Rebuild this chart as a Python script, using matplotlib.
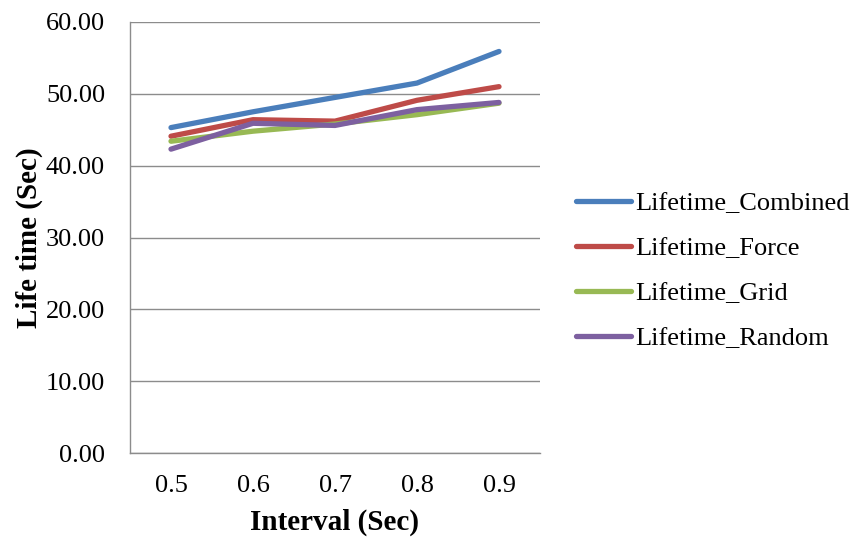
import matplotlib
matplotlib.use("Agg")
import matplotlib.pyplot as plt
from matplotlib.ticker import FormatStrFormatter

intervals = ["0.5", "0.6", "0.7", "0.8", "0.9"]
lifetime_combined = [45.3, 47.5, 49.5, 51.5, 55.9]
lifetime_force = [44.1, 46.4, 46.2, 49.1, 51.0]
lifetime_grid = [43.4, 44.8, 45.8, 47.1, 48.7]
lifetime_random = [42.3, 45.9, 45.6, 47.8, 48.8]

series = [
    ("Lifetime_Combined", lifetime_combined, "#4A7EBB"),
    ("Lifetime_Force", lifetime_force, "#BE4B48"),
    ("Lifetime_Grid", lifetime_grid, "#98B954"),
    ("Lifetime_Random", lifetime_random, "#7D60A0"),
]

plt.rcParams["font.family"] = ["Liberation Serif", "DejaVu Serif"]

fig = plt.figure(figsize=(8.56, 5.37), dpi=100)
ax = fig.add_axes([130 / 856, 1 - 453 / 537, 410 / 856, 431 / 537])

x = list(range(len(intervals)))
for name, vals, color in series:
    ax.plot(x, vals, color=color, lw=3.8, solid_capstyle="round",
            solid_joinstyle="round", label=name)

ax.set_xlim(-0.5, len(intervals) - 0.5)
ax.set_ylim(0, 60)
ax.set_yticks(range(0, 61, 10))
ax.yaxis.set_major_formatter(FormatStrFormatter("%.2f"))
ax.set_xticks(x)
ax.set_xticklabels(intervals)

grid_color = "#8C8C8C"
ax.grid(axis="y", color=grid_color, lw=1.0)
ax.set_axisbelow(True)
for side in ("top", "right"):
    ax.spines[side].set_visible(False)
for side in ("left", "bottom"):
    ax.spines[side].set_color(grid_color)
    ax.spines[side].set_linewidth(1.0)

ax.tick_params(axis="y", length=0, labelsize=19, pad=18)
ax.tick_params(axis="x", length=0, labelsize=19, pad=16)

ax.set_xlabel("Interval (Sec)", fontsize=21, fontweight="bold", labelpad=8)
ax.set_ylabel("Life time (Sec)", fontsize=21, fontweight="bold", labelpad=2)

ax.legend(loc="center left", bbox_to_anchor=(565 / 856, 1 - 271 / 537),
          bbox_transform=fig.transFigure, frameon=False, fontsize=19,
          handlelength=2.1, handletextpad=0.15, labelspacing=0.82,
          borderaxespad=0)

fig.savefig("out.png", dpi=100)
